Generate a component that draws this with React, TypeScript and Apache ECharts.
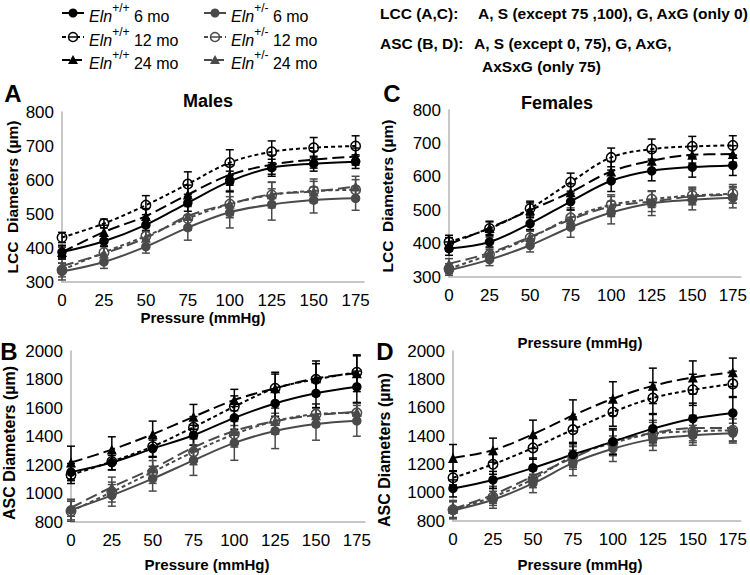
import React, { useEffect, useRef } from 'react';
import * as echarts from 'echarts';

// ---------- data ----------
const pressure = [0, 25, 50, 75, 100, 125, 150, 175];

// Panel A: LCC, males (µm)
const lccMaleWt6 = [388, 420, 468, 533, 596, 636, 648, 654];
const lccMaleWt12 = [431, 472, 526, 588, 651, 683, 695, 700];
const lccMaleWt24 = [388, 447, 494, 557, 615, 645, 660, 669];
const lccMaleHet6 = [331, 359, 404, 460, 505, 528, 541, 546];
const lccMaleHet12 = [335, 387, 435, 487, 529, 556, 568, 571];
const lccMaleHet24 = [347, 384, 430, 494, 530, 558, 566, 581];
const lccMaleWt6Err = [15, 15, 18, 25, 30, 25, 22, 20];
const lccMaleWt12Err = [15, 13, 28, 36, 38, 32, 30, 30];
const lccMaleWt24Err = [20, 20, 22, 28, 30, 28, 25, 25];
const lccMaleHet6Err = [25, 19, 19, 37, 46, 46, 38, 35];
const lccMaleHet12Err = [20, 20, 25, 35, 40, 38, 35, 30];
const lccMaleHet24Err = [20, 20, 22, 30, 35, 35, 30, 30];

// Panel C: LCC, females (µm)
const lccFemWt6 = [385, 405, 460, 526, 588, 618, 629, 634];
const lccFemWt12 = [405, 445, 505, 584, 658, 683, 691, 694];
const lccFemWt24 = [398, 447, 500, 554, 616, 648, 666, 668];
const lccFemHet6 = [320, 352, 395, 449, 493, 521, 531, 537];
const lccFemHet12 = [325, 367, 417, 477, 516, 533, 544, 549];
const lccFemHet24 = [340, 372, 420, 472, 511, 526, 541, 546];
const lccFemWt6Err = [20, 15, 18, 25, 32, 30, 30, 30];
const lccFemWt12Err = [20, 20, 22, 27, 28, 30, 30, 29];
const lccFemWt24Err = [20, 20, 22, 25, 30, 28, 25, 25];
const lccFemHet6Err = [15, 18, 20, 30, 34, 37, 30, 30];
const lccFemHet12Err = [15, 15, 20, 30, 30, 25, 25, 28];
const lccFemHet24Err = [15, 15, 20, 28, 30, 30, 25, 25];

// Panel B: ASC, males (µm)
const ascMaleWt6 = [1150, 1217, 1315, 1409, 1531, 1632, 1703, 1749];
const ascMaleWt12 = [1130, 1225, 1330, 1465, 1610, 1738, 1801, 1851];
const ascMaleWt24 = [1217, 1308, 1416, 1538, 1656, 1738, 1808, 1844];
const ascMaleHet6 = [885, 987, 1104, 1233, 1355, 1439, 1487, 1510];
const ascMaleHet12 = [875, 1010, 1151, 1292, 1416, 1508, 1557, 1566];
const ascMaleHet24 = [900, 1045, 1175, 1323, 1439, 1508, 1550, 1573];
const ascMaleWt6Err = [60, 50, 60, 70, 80, 90, 100, 110];
const ascMaleWt12Err = [60, 60, 70, 75, 75, 100, 110, 115];
const ascMaleWt24Err = [115, 90, 92, 87, 75, 113, 122, 129];
const ascMaleHet6Err = [70, 76, 87, 106, 122, 124, 113, 108];
const ascMaleHet12Err = [70, 70, 80, 90, 90, 90, 70, 70];
const ascMaleHet24Err = [60, 70, 80, 90, 90, 90, 80, 60];

// Panel D: ASC, females (µm)
const ascFemWt6 = [1030, 1090, 1175, 1269, 1360, 1452, 1522, 1562];
const ascFemWt12 = [1105, 1200, 1316, 1445, 1569, 1668, 1726, 1768];
const ascFemWt24 = [1245, 1300, 1412, 1545, 1663, 1754, 1813, 1850];
const ascFemHet6 = [875, 950, 1065, 1210, 1310, 1378, 1405, 1420];
const ascFemHet12 = [880, 970, 1095, 1257, 1351, 1416, 1433, 1440];
const ascFemHet24 = [885, 985, 1116, 1245, 1363, 1421, 1456, 1456];
const ascFemWt6Err = [60, 60, 70, 80, 90, 100, 110, 110];
const ascFemWt12Err = [50, 70, 80, 90, 100, 110, 110, 90];
const ascFemWt24Err = [95, 85, 100, 110, 120, 125, 117, 100];
const ascFemHet6Err = [60, 60, 65, 90, 90, 80, 70, 70];
const ascFemHet12Err = [60, 60, 60, 80, 90, 80, 80, 80];
const ascFemHet24Err = [60, 60, 60, 80, 90, 90, 90, 90];

// ---------- styles ----------
const FONT = '"Liberation Sans", Arial, Helvetica, sans-serif';
const BLACK = '#000000';
const GREY = '#4a4a4a';
const AXIS_GREY = '#b5b5b5';

type Age = 6 | 12 | 24;
type Def = { mean: number[]; err: number[]; het: boolean; age: Age };

const panels: { grid: any; yMin: number; yMax: number; yInt: number; defs: Def[] }[] = [
  {
    grid: { left: 62, top: 112, width: 302, height: 170 },
    yMin: 300, yMax: 800, yInt: 100,
    defs: [
      { mean: lccMaleHet6, err: lccMaleHet6Err, het: true, age: 6 },
      { mean: lccMaleHet12, err: lccMaleHet12Err, het: true, age: 12 },
      { mean: lccMaleHet24, err: lccMaleHet24Err, het: true, age: 24 },
      { mean: lccMaleWt24, err: lccMaleWt24Err, het: false, age: 24 },
      { mean: lccMaleWt12, err: lccMaleWt12Err, het: false, age: 12 },
      { mean: lccMaleWt6, err: lccMaleWt6Err, het: false, age: 6 },
    ],
  },
  {
    grid: { left: 449, top: 110, width: 293, height: 167 },
    yMin: 300, yMax: 800, yInt: 100,
    defs: [
      { mean: lccFemHet6, err: lccFemHet6Err, het: true, age: 6 },
      { mean: lccFemHet12, err: lccFemHet12Err, het: true, age: 12 },
      { mean: lccFemHet24, err: lccFemHet24Err, het: true, age: 24 },
      { mean: lccFemWt24, err: lccFemWt24Err, het: false, age: 24 },
      { mean: lccFemWt12, err: lccFemWt12Err, het: false, age: 12 },
      { mean: lccFemWt6, err: lccFemWt6Err, het: false, age: 6 },
    ],
  },
  {
    grid: { left: 71, top: 351, width: 294, height: 171 },
    yMin: 800, yMax: 2000, yInt: 200,
    defs: [
      { mean: ascMaleHet6, err: ascMaleHet6Err, het: true, age: 6 },
      { mean: ascMaleHet12, err: ascMaleHet12Err, het: true, age: 12 },
      { mean: ascMaleHet24, err: ascMaleHet24Err, het: true, age: 24 },
      { mean: ascMaleWt24, err: ascMaleWt24Err, het: false, age: 24 },
      { mean: ascMaleWt12, err: ascMaleWt12Err, het: false, age: 12 },
      { mean: ascMaleWt6, err: ascMaleWt6Err, het: false, age: 6 },
    ],
  },
  {
    grid: { left: 453, top: 351, width: 293, height: 170 },
    yMin: 800, yMax: 2000, yInt: 200,
    defs: [
      { mean: ascFemHet6, err: ascFemHet6Err, het: true, age: 6 },
      { mean: ascFemHet12, err: ascFemHet12Err, het: true, age: 12 },
      { mean: ascFemHet24, err: ascFemHet24Err, het: true, age: 24 },
      { mean: ascFemWt24, err: ascFemWt24Err, het: false, age: 24 },
      { mean: ascFemWt12, err: ascFemWt12Err, het: false, age: 12 },
      { mean: ascFemWt6, err: ascFemWt6Err, het: false, age: 6 },
    ],
  },
];

const dashFor = (age: Age): any => (age === 6 ? 'solid' : age === 12 ? [4, 3] : [12, 5]);

function buildOption() {
  const grids: any[] = [];
  const xAxes: any[] = [];
  const yAxes: any[] = [];
  const series: any[] = [];

  panels.forEach((p, gi) => {
    grids.push({ ...p.grid, containLabel: false });
    xAxes.push({
      gridIndex: gi, type: 'value', min: 0, max: 180, interval: 25,
      axisLine: { show: true, lineStyle: { color: AXIS_GREY, width: 1.5 } },
      axisTick: { show: false }, splitLine: { show: false },
      axisLabel: {
        color: '#000', fontSize: 17, fontFamily: FONT, margin: 10,
        formatter: (v: number) => (v % 25 === 0 ? String(v) : ''),
      },
    });
    yAxes.push({
      gridIndex: gi, type: 'value', min: p.yMin, max: p.yMax, interval: p.yInt,
      axisLine: { show: true, lineStyle: { color: AXIS_GREY, width: 1.5 } },
      axisTick: { show: false }, splitLine: { show: false },
      axisLabel: {
        color: '#000', fontSize: 17, fontFamily: FONT, margin: 8,
        formatter: (v: number) => String(v),
      },
    });

    p.defs.forEach((d) => {
      const color = d.het ? GREY : BLACK;
      // error bars
      series.push({
        type: 'custom', xAxisIndex: gi, yAxisIndex: gi, silent: true, z: 2,
        data: pressure.map((x, i) => [x, d.mean[i] - d.err[i], d.mean[i] + d.err[i]]),
        renderItem: (params: any, api: any) => {
          const x = api.value(0);
          const lo = api.coord([x, api.value(1)]);
          const hi = api.coord([x, api.value(2)]);
          const w = 4;
          const st = { stroke: color, lineWidth: 1.5 };
          return {
            type: 'group',
            children: [
              { type: 'line', shape: { x1: lo[0], y1: lo[1], x2: hi[0], y2: hi[1] }, style: st },
              { type: 'line', shape: { x1: lo[0] - w, y1: lo[1], x2: lo[0] + w, y2: lo[1] }, style: st },
              { type: 'line', shape: { x1: hi[0] - w, y1: hi[1], x2: hi[0] + w, y2: hi[1] }, style: st },
            ],
          };
        },
      });
      // line + markers
      const hollow = d.age === 12;
      series.push({
        type: 'line', xAxisIndex: gi, yAxisIndex: gi, z: 3,
        data: pressure.map((x, i) => [x, d.mean[i]]),
        smooth: 0.35,
        symbol: d.age === 24 ? 'triangle' : 'circle',
        symbolSize: d.age === 24 ? 10 : 9.5,
        showSymbol: true,
        lineStyle: { color, width: 2, type: dashFor(d.age) },
        itemStyle: hollow
          ? { color: 'rgba(0,0,0,0)', borderColor: color, borderWidth: 1.5 }
          : { color, borderColor: color, borderWidth: 0 },
        emphasis: { disabled: true },
      });
    });
  });

  // ---------- graphic texts & legend ----------
  const g: any[] = [];
  const txt = (x: number, y: number, text: string, opts: any = {}) => ({
    type: 'text', x, y, silent: true,
    style: {
      text, fill: '#000', fontFamily: FONT, fontSize: 15, fontWeight: 'bold',
      textAlign: 'center', textVerticalAlign: 'middle', ...opts,
    },
  });

  // panel letters
  g.push(txt(13, 93, 'A', { fontSize: 24 }));
  g.push(txt(392, 93, 'C', { fontSize: 24 }));
  g.push(txt(9, 351, 'B', { fontSize: 24 }));
  g.push(txt(385, 351, 'D', { fontSize: 24 }));
  // titles
  g.push(txt(208, 101, 'Males', { fontSize: 18 }));
  g.push(txt(557, 103, 'Females', { fontSize: 18 }));
  // x axis names
  g.push(txt(203, 317, 'Pressure (mmHg)'));
  g.push(txt(580, 342, 'Pressure (mmHg)'));
  g.push(txt(207, 564, 'Pressure (mmHg)'));
  g.push(txt(580, 564, 'Pressure (mmHg)'));
  // y axis names (rotated)
  const ytxt = (x: number, y: number, text: string, size: number) => ({
    type: 'text', x, y, rotation: Math.PI / 2, silent: true,
    style: { text, fill: '#000', fontFamily: FONT, fontSize: size, fontWeight: 'bold', textAlign: 'center', textVerticalAlign: 'middle' },
  });
  g.push(ytxt(12, 197, 'LCC  Diameters (µm)', 15.5));
  g.push(ytxt(387, 196, 'LCC  Diameters (µm)', 15.5));
  g.push(ytxt(9, 443, 'ASC Diameters (µm)', 16));
  g.push(ytxt(384, 450, 'ASC Diameters (µm)', 16));

  // statistics header
  const hdr = { textAlign: 'left', fontSize: 15.5 };
  g.push(txt(380, 13, 'LCC (A,C):', hdr));
  g.push(txt(478, 13, 'A, S (except 75 ,100), G, AxG (only 0)', hdr));
  g.push(txt(380, 43, 'ASC (B, D):', hdr));
  g.push(txt(474, 43, 'A, S (except 0, 75), G, AxG,', hdr));
  g.push(txt(482, 66, 'AxSxG (only 75)', hdr));

  // legend
  const legendRows: { het: boolean; age: Age }[][] = [
    [{ het: false, age: 6 }, { het: true, age: 6 }],
    [{ het: false, age: 12 }, { het: true, age: 12 }],
    [{ het: false, age: 24 }, { het: true, age: 24 }],
  ];
  const rowY = [13, 37, 60];
  const colX = [62, 204];
  legendRows.forEach((row, ri) => {
    row.forEach((item, ci) => {
      const x0 = colX[ci];
      const y = rowY[ri];
      const color = item.het ? GREY : BLACK;
      const dash = item.age === 6 ? null : item.age === 12 ? [4, 3] : [8, 4];
      g.push({
        type: 'line', silent: true,
        shape: { x1: x0, y1: y, x2: x0 + 22, y2: y },
        style: { stroke: color, lineWidth: 2, lineDash: dash },
      });
      const cx = x0 + 11;
      if (item.age === 24) {
        g.push({
          type: 'polygon', silent: true,
          shape: { points: [[cx, y - 5], [cx - 5, y + 4], [cx + 5, y + 4]] },
          style: { fill: color },
        });
      } else if (item.age === 12) {
        g.push({
          type: 'circle', silent: true, shape: { cx, cy: y, r: 4.5 },
          style: { fill: '#fff', stroke: color, lineWidth: 1.5 },
        });
        g.push({
          type: 'line', silent: true, shape: { x1: cx - 4.5, y1: y, x2: cx + 4.5, y2: y },
          style: { stroke: color, lineWidth: 1.5 },
        });
      } else {
        g.push({
          type: 'circle', silent: true, shape: { cx, cy: y, r: 4.5 },
          style: { fill: color },
        });
      }
      const sup = item.het ? '+/-' : '+/+';
      g.push({
        type: 'text', x: x0 + 27, y, silent: true,
        style: {
          text: `{i|Eln}{s|${sup}}{n| ${item.age} mo}`,
          fontFamily: FONT, fill: '#000', textAlign: 'left', textVerticalAlign: 'middle',
          rich: {
            i: { fontStyle: 'italic', fontSize: 16, fontFamily: FONT, verticalAlign: 'bottom', lineHeight: 22 },
            s: { fontSize: 12, fontFamily: FONT, verticalAlign: 'top', lineHeight: 12 },
            n: { fontSize: 16, fontFamily: FONT, verticalAlign: 'bottom', lineHeight: 22 },
          },
        },
      });
    });
  });

  return {
    animation: false,
    backgroundColor: '#ffffff',
    grid: grids,
    xAxis: xAxes,
    yAxis: yAxes,
    series,
    graphic: g,
  };
}

export default function App() {
  const ref = useRef<HTMLDivElement>(null);
  useEffect(() => {
    if (!ref.current) return;
    const chart = echarts.init(ref.current, undefined, { renderer: 'svg' });
    chart.setOption(buildOption() as any);
    return () => chart.dispose();
  }, []);
  return (
    <div
      ref={ref}
      style={{ position: 'fixed', left: 0, top: 0, width: 750, height: 575, background: '#fff' }}
    />
  );
}
